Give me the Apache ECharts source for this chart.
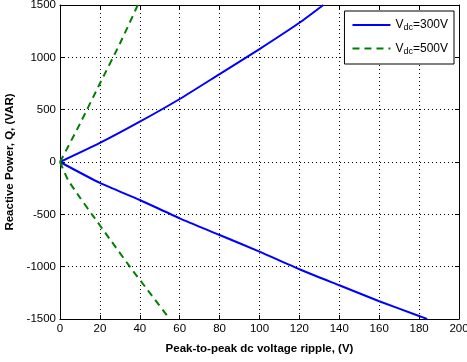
<!DOCTYPE html>
<html>
<head>
<meta charset="utf-8">
<script src="https://cdn.jsdelivr.net/npm/echarts@6/dist/echarts.min.js"></script>
<style>
  html, body { margin: 0; padding: 0; background: #fff; }
  #chart { width: 467px; height: 362px; }
</style>
</head>
<body>
<div id="chart"></div>
<script>
// Vdc = 300 V, upper and lower branches
const v300UpX = [0, 20, 40, 60, 80, 100, 120, 132];
const v300UpY = [0, 182, 385, 602, 840, 1079, 1330, 1500];
const v300LoX = [0, 20, 40, 60, 80, 100, 120, 140, 160, 180, 184];
const v300LoY = [0, -200, -363, -538, -697, -857, -1025, -1178, -1330, -1471, -1500];
// Vdc = 500 V
const v500UpX = [0, 10, 20, 30, 39];
const v500UpY = [0, 365, 750, 1130, 1500];
const v500LoX = [0, 4, 10, 16, 25, 35, 45, 55];
const v500LoY = [0, -170, -340, -500, -737, -1000, -1250, -1500];

const xTicks = [0, 200, 20];
const yTicks = [-1500, 1500, 500];

const zip = (xs, ys) => xs.map((x, i) => [x, ys[i]]);

const chart = echarts.init(document.getElementById("chart"));
const font = "Liberation Sans, Arial, sans-serif";
const grid = { lineStyle: { color: "#000", type: [1, 3], width: 1 } };
const tick = { show: true, inside: true, length: 4, lineStyle: { color: "#000" } };
const line = { onZero: false, lineStyle: { color: "#000", width: 1 } };
const plain = (v) => String(v);

const blue = { color: "#0000ff", width: 2, type: "solid" };
const green = { color: "#008000", width: 2, type: [7, 5] };

chart.setOption({
  animation: false,
  backgroundColor: "#fff",
  textStyle: { fontFamily: font },
  grid: { left: 60, right: 8, top: 5, bottom: 43, outerBoundsMode: "none", containLabel: false },
  legend: {
    orient: "vertical",
    right: 13,
    top: 11,
    backgroundColor: "#fff",
    borderColor: "#000",
    borderWidth: 1,
    borderRadius: 0,
    padding: [8, 6, 8, 7],
    itemGap: 10,
    itemWidth: 38,
    itemHeight: 12,
    itemStyle: { opacity: 0 },
    data: ["300", "500"],
    formatter: (n) => "{v|V}{s|dc}{v|=" + n + "V}",
    textStyle: {
      rich: {
        v: { fontSize: 12, color: "#000", fontFamily: font },
        s: { fontSize: 9, color: "#000", fontFamily: font, verticalAlign: "bottom", padding: [6, 0, 0, 0] },
      },
    },
  },
  xAxis: [
    {
      type: "value",
      min: xTicks[0], max: xTicks[1], interval: xTicks[2],
      name: "Peak-to-peak dc voltage ripple, (V)",
      nameLocation: "middle",
      nameGap: 24,
      nameTextStyle: { fontWeight: "bold", fontSize: 11.5, color: "#000" },
      axisLine: line,
      axisTick: tick,
      axisLabel: { color: "#000", fontSize: 11.5, margin: 4, formatter: plain },
      splitLine: grid,
    },
    {
      type: "value", position: "top",
      min: xTicks[0], max: xTicks[1], interval: xTicks[2],
      axisLine: line, axisTick: tick, axisLabel: { show: false }, splitLine: { show: false },
    },
  ],
  yAxis: [
    {
      type: "value",
      min: yTicks[0], max: yTicks[1], interval: yTicks[2],
      name: "Reactive Power, Q, (VAR)",
      nameLocation: "middle",
      nameGap: 44,
      nameTextStyle: { fontWeight: "bold", fontSize: 11.5, color: "#000" },
      axisLine: line,
      axisTick: tick,
      axisLabel: { color: "#000", fontSize: 11.5, margin: 4, formatter: plain },
      splitLine: grid,
    },
    {
      type: "value", position: "right",
      min: yTicks[0], max: yTicks[1], interval: yTicks[2],
      axisLine: line, axisTick: tick, axisLabel: { show: false }, splitLine: { show: false },
    },
  ],
  series: [
    { name: "300", type: "line", data: zip(v300UpX, v300UpY), symbol: "none", smooth: 0.2, lineStyle: blue, itemStyle: { color: blue.color } },
    { name: "300", type: "line", data: zip(v300LoX, v300LoY), symbol: "none", smooth: 0.2, lineStyle: blue, itemStyle: { color: blue.color } },
    { name: "500", type: "line", data: zip(v500UpX, v500UpY), symbol: "none", smooth: 0.2, lineStyle: green, itemStyle: { color: green.color } },
    { name: "500", type: "line", data: zip(v500LoX, v500LoY), symbol: "none", smooth: 0.2, lineStyle: green, itemStyle: { color: green.color } },
  ],
});
</script>
</body>
</html>
